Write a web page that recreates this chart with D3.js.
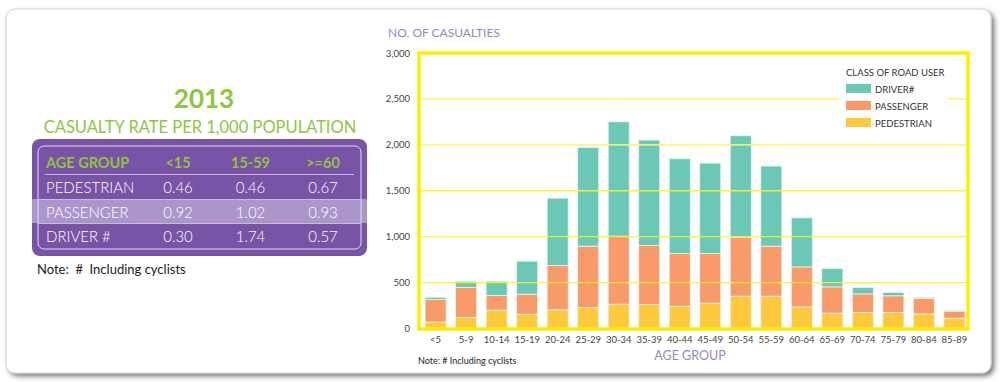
<!DOCTYPE html>
<html>
<head>
<meta charset="utf-8">
<script src="https://cdn.jsdelivr.net/npm/d3@7"></script>
<style>
  body { margin: 0; background: #fff; }
  svg { display: block; font-family: Lato, "Open Sans", sans-serif; }
</style>
</head>
<body>
<div id="chart"></div>
<script>
// data
var ageGroups = ["<5","5-9","10-14","15-19","20-24","25-29","30-34","35-39","40-44","45-49","50-54","55-59","60-64","65-69","70-74","75-79","80-84","85-89"];
var pedestrian = [70, 120, 200, 156, 203, 229, 265, 261, 243, 276, 352, 352, 235, 167, 174, 174, 159, 112];
var passenger  = [245, 327, 160, 218, 483, 668, 741, 643, 574, 541, 643, 545, 436, 286, 203, 182, 168, 77];
var driver     = [25, 68, 155, 359, 734, 1075, 1245, 1148, 1031, 984, 1104, 872, 534, 201, 70, 36, 11, 10];
var yTicks = [0, 500, 1000, 1500, 2000, 2500, 3000];

var rateGroups = ["<15", "15-59", ">=60"];
var rateRows = ["PEDESTRIAN", "PASSENGER", "DRIVER #"];
var rates = [[0.46, 0.46, 0.67], [0.92, 1.02, 0.93], [0.30, 1.74, 0.57]];

var W = 1000, H = 382;
var green = "#8dc63f", purple = "#7953a5", axisPurple = "#9a86c3";

var svg = d3.select("#chart").append("svg")
  .attr("width", W)
  .attr("height", H);

var defs = svg.append("defs");
var f = defs.append("filter").attr("id", "shadow")
  .attr("x", "-5%").attr("y", "-5%").attr("width", "110%").attr("height", "115%");
f.append("feDropShadow")
  .attr("dx", 3).attr("dy", 3).attr("stdDeviation", 2.5)
  .attr("flood-color", "#000").attr("flood-opacity", 0.5);

// card
svg.append("rect")
  .attr("x", 6).attr("y", 9)
  .attr("width", 985).attr("height", 364)
  .attr("rx", 9)
  .attr("fill", "#fff")
  .attr("stroke", "#d0d0d0")
  .attr("filter", "url(#shadow)");

//---------- left: rate table ----------
var left = svg.append("g");

left.append("text")
  .attr("x", 204).attr("y", 108)
  .attr("text-anchor", "middle")
  .attr("fill", green)
  .attr("font-weight", "bold")
  .attr("font-size", 26)
  .text("2013");

left.append("text")
  .attr("x", 200).attr("y", 133)
  .attr("text-anchor", "middle")
  .attr("fill", green)
  .attr("font-size", 16.5)
  .text("CASUALTY RATE PER 1,000 POPULATION");

left.append("rect")
  .attr("x", 32).attr("y", 139)
  .attr("width", 335).attr("height", 117)
  .attr("rx", 8)
  .attr("fill", purple);

// highlighted passenger row
left.append("rect")
  .attr("x", 32).attr("y", 199)
  .attr("width", 335).attr("height", 24)
  .attr("fill", "#ab96cc");

left.append("rect")
  .attr("x", 38).attr("y", 146)
  .attr("width", 323).attr("height", 103)
  .attr("rx", 6)
  .attr("fill", "none")
  .attr("stroke", "#e6ddf0")
  .attr("stroke-width", 1);

var colX = d3.scalePoint().domain(rateGroups).range([178, 323]);

left.append("text")
  .attr("x", 46).attr("y", 168)
  .attr("fill", green)
  .attr("font-weight", "bold")
  .attr("font-size", 14.5)
  .text("AGE GROUP");

left.selectAll("text.colhead")
  .data(rateGroups)
  .enter()
  .append("text")
  .attr("class", "colhead")
  .attr("x", function (d) { return colX(d); })
  .attr("y", 168)
  .attr("text-anchor", "middle")
  .attr("fill", green)
  .attr("font-weight", "bold")
  .attr("font-size", 14.5)
  .text(function (d) { return d; });

left.append("line")
  .attr("x1", 45).attr("x2", 354)
  .attr("y1", 174.5).attr("y2", 174.5)
  .attr("stroke", "#c9b8e0");

[199.5, 223.5].forEach(function (y) {
  left.append("line")
    .attr("x1", 38).attr("x2", 361)
    .attr("y1", y).attr("y2", y)
    .attr("stroke", "#c9b8e0");
});

var rowY = d3.scalePoint().domain(rateRows).range([193, 242]);

var rows = left.selectAll("g.row")
  .data(rateRows)
  .enter()
  .append("g")
  .attr("class", "row");

rows.append("text")
  .attr("x", 46)
  .attr("y", function (d) { return rowY(d); })
  .attr("fill", "#fff")
  .attr("font-size", 15)
  .attr("font-weight", 300)
  .text(function (d) { return d; });

rows.each(function (r, i) {
  d3.select(this).selectAll("text.val")
    .data(rates[i])
    .enter()
    .append("text")
    .attr("class", "val")
    .attr("x", function (d, j) { return colX(rateGroups[j]); })
    .attr("y", rowY(r))
    .attr("text-anchor", "middle")
    .attr("fill", "#fff")
    .attr("font-size", 15)
    .attr("font-weight", 300)
    .text(function (d) { return d.toFixed(2); });
});

left.append("text")
  .attr("x", 37).attr("y", 274)
  .attr("fill", "#222")
  .attr("font-size", 13)
  .attr("xml:space", "preserve")
  .text("Note:  #  Including cyclists");

//---------- right: stacked bar chart ----------
var x = d3.scaleBand()
  .domain(ageGroups)
  .range([420.5, 969.5])
  .paddingInner(0.31)
  .paddingOuter(0.15);

var y = d3.scaleLinear()
  .domain([0, 3000])
  .range([328.5, 53]);

var keys = ["pedestrian", "passenger", "driver"];
var color = d3.scaleOrdinal()
  .domain(keys)
  .range(["#fec93e", "#f89a6a", "#6cc8b6"]);

var table = ageGroups.map(function (g, i) {
  return { group: g, pedestrian: pedestrian[i], passenger: passenger[i], driver: driver[i] };
});
var series = d3.stack().keys(keys)(table);

var chart = svg.append("g");

// bars
chart.selectAll("g.layer")
  .data(series)
  .enter()
  .append("g")
  .attr("class", "layer")
  .attr("fill", function (d) { return color(d.key); })
  .selectAll("rect")
  .data(function (d) { return d; })
  .enter()
  .append("rect")
  .attr("x", function (d) { return x(d.data.group); })
  .attr("y", function (d) { return y(d[1]); })
  .attr("width", x.bandwidth())
  .attr("height", function (d) { return y(d[0]) - y(d[1]); })
  .attr("stroke", "#e8f6f2")
  .attr("stroke-width", 0.8);

// gridlines over the bars
chart.selectAll("line.grid")
  .data(yTicks.slice(1, 6))
  .enter()
  .append("line")
  .attr("class", "grid")
  .attr("x1", 420).attr("x2", 967)
  .attr("y1", function (d) { return y(d); })
  .attr("y2", function (d) { return y(d); })
  .attr("stroke", function (d) { return d >= 2000 ? "#fff36e" : "#fff02a"; })
  .attr("stroke-width", function (d) { return d >= 2000 ? 1.8 : 1.3; })
  .attr("stroke-opacity", 0.9);

// frame
chart.append("rect")
  .attr("x", 419).attr("y", 53)
  .attr("width", 549).attr("height", 276)
  .attr("fill", "none")
  .attr("stroke", "#ffed00")
  .attr("stroke-width", 3.5);

// y axis
var yAxis = d3.axisLeft(y)
  .tickValues(yTicks)
  .tickSize(0)
  .tickPadding(0)
  .tickFormat(d3.format(","));

chart.append("g")
  .attr("transform", "translate(410,0)")
  .call(yAxis)
  .call(function (g) {
    g.select(".domain").remove();
    g.selectAll("text").attr("fill", "#444").attr("font-size", 9.5)
      .attr("font-family", "Lato, 'Open Sans', sans-serif");
  });

// x axis
var xAxis = d3.axisBottom(x).tickSize(0).tickPadding(0);
chart.append("g")
  .attr("transform", "translate(0,336)")
  .call(xAxis)
  .call(function (g) {
    g.select(".domain").remove();
    g.selectAll("text").attr("fill", "#444").attr("font-size", 9.5)
      .attr("font-family", "Lato, 'Open Sans', sans-serif");
  });

chart.append("text")
  .attr("x", 388).attr("y", 37)
  .attr("fill", axisPurple)
  .attr("font-size", 12)
  .text("NO. OF CASUALTIES");

chart.append("text")
  .attr("x", 690).attr("y", 360)
  .attr("text-anchor", "middle")
  .attr("fill", axisPurple)
  .attr("font-size", 12.5)
  .text("AGE GROUP");

chart.append("text")
  .attr("x", 418).attr("y", 364)
  .attr("fill", "#222")
  .attr("font-size", 9)
  .text("Note:  # Including cyclists");

// legend
var legend = chart.append("g");
legend.append("rect")
  .attr("x", 839).attr("y", 62)
  .attr("width", 109).attr("height", 70)
  .attr("fill", "#fff");

legend.append("text")
  .attr("x", 846).attr("y", 76)
  .attr("fill", "#333")
  .attr("font-size", 9.5)
  .text("CLASS OF ROAD USER");

var legendKeys = ["driver", "passenger", "pedestrian"];
var legendLabels = ["DRIVER#", "PASSENGER", "PEDESTRIAN"];

var items = legend.selectAll("g.item")
  .data(legendKeys)
  .enter()
  .append("g")
  .attr("class", "item")
  .attr("transform", function (d, i) { return "translate(846," + (84 + i * 17) + ")"; });

items.append("rect")
  .attr("width", 25).attr("height", 9)
  .attr("fill", function (d) { return color(d); });

items.append("text")
  .attr("x", 29).attr("y", 8.5)
  .attr("fill", "#333")
  .attr("font-size", 9.5)
  .text(function (d, i) { return legendLabels[i]; });
</script>
</body>
</html>
